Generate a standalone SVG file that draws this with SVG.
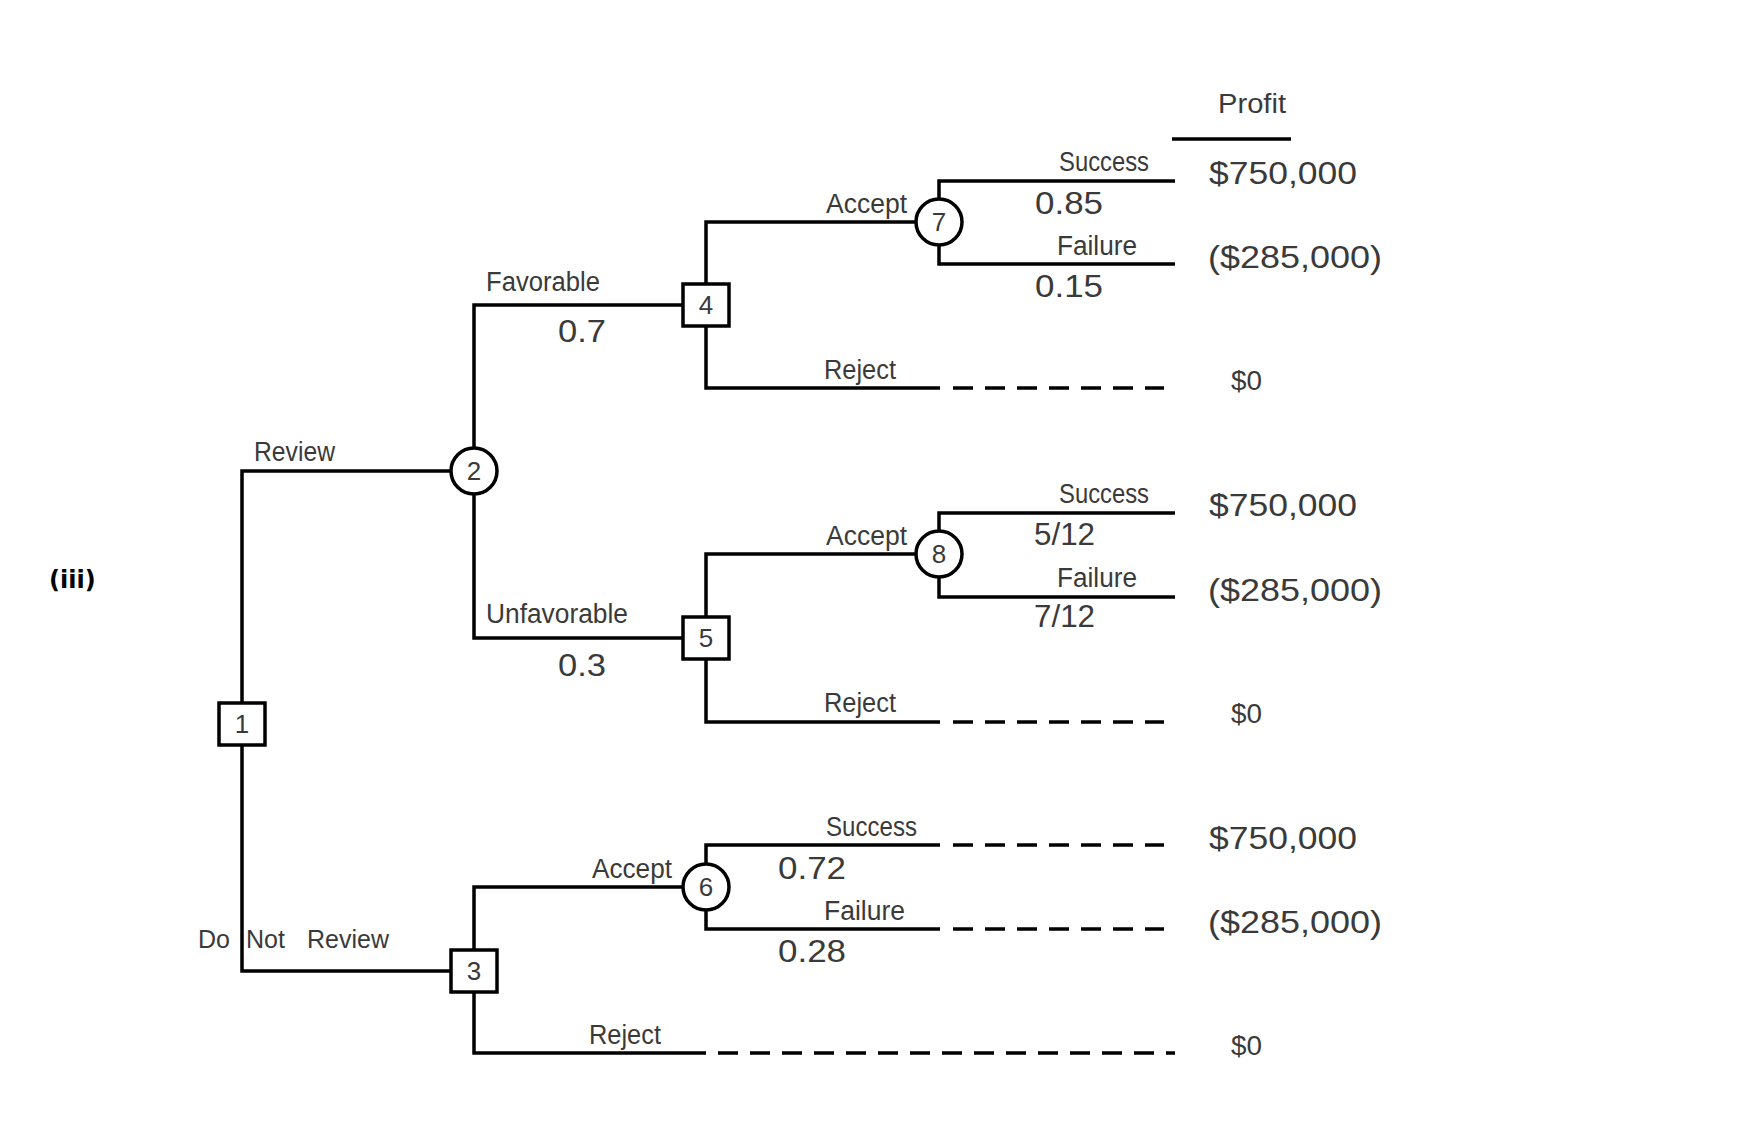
<svg xmlns="http://www.w3.org/2000/svg" width="1738" height="1126" viewBox="0 0 1738 1126">
<style>
.ln{fill:none;stroke:#000;stroke-width:3.5;stroke-linecap:butt;stroke-linejoin:miter}
.ds{fill:none;stroke:#000;stroke-width:3.5;stroke-dasharray:20 12}
.nd{fill:#fff;stroke:#000;stroke-width:3.5}
.lb{font-family:"Liberation Sans",Arial,sans-serif;font-size:27px;fill:#3a3a3a}
.nm{font-family:"Liberation Sans",Arial,sans-serif;font-size:31px;fill:#3a3a3a}
.id{font-family:"Liberation Sans",Arial,sans-serif;font-size:26px;fill:#3a3a3a;text-anchor:middle}
.tag{font-family:"DejaVu Sans",Verdana,sans-serif;font-size:24px;font-weight:bold;fill:#000}
</style>
<rect width="1738" height="1126" fill="#fff"/>
<text class="tag" x="49" y="588">(iii)</text>
<g id="connectors">
<path class="ln" d="M242,724 V471 H474"/>
<path class="ln" d="M242,724 V971 H474"/>
<path class="ln" d="M474,471 V305 H706"/>
<path class="ln" d="M474,471 V638 H706"/>
<path class="ln" d="M706,305 V222 H939"/>
<path class="ln" d="M706,305 V388 H940"/>
<path class="ds" d="M953,388 H1164"/>
<path class="ln" d="M939,222 V181 H1175"/>
<path class="ln" d="M939,222 V264 H1175"/>
<path class="ln" d="M706,638 V554 H939"/>
<path class="ln" d="M706,638 V722 H940"/>
<path class="ds" d="M953,722 H1164"/>
<path class="ln" d="M939,554 V513 H1175"/>
<path class="ln" d="M939,554 V597 H1175"/>
<path class="ln" d="M474,971 V887 H706"/>
<path class="ln" d="M474,971 V1053 H706"/>
<path class="ds" d="M718,1053 H1175"/>
<path class="ln" d="M706,887 V845 H940"/>
<path class="ds" d="M953,845 H1164"/>
<path class="ln" d="M706,887 V929 H940"/>
<path class="ds" d="M953,929 H1164"/>
<path class="ln" d="M1172,139 H1291"/>
</g>
<g id="node1"><rect class="nd" x="219" y="703" width="46" height="42"/><text class="id" x="242" y="733">1</text></g>
<g id="node2"><circle class="nd" cx="474" cy="471" r="23"/><text class="id" x="474" y="480">2</text></g>
<g id="node3"><rect class="nd" x="451" y="950" width="46" height="42"/><text class="id" x="474" y="980">3</text></g>
<g id="node4"><rect class="nd" x="683" y="284" width="46" height="42"/><text class="id" x="706" y="314">4</text></g>
<g id="node5"><rect class="nd" x="683" y="617" width="46" height="42"/><text class="id" x="706" y="647">5</text></g>
<g id="node6"><circle class="nd" cx="706" cy="887" r="23"/><text class="id" x="706" y="896">6</text></g>
<g id="node7"><circle class="nd" cx="939" cy="222" r="23"/><text class="id" x="939" y="231">7</text></g>
<g id="node8"><circle class="nd" cx="939" cy="554" r="23"/><text class="id" x="939" y="563">8</text></g>
<g id="labels">
<text class="lb" x="1218" y="113" textLength="68" lengthAdjust="spacingAndGlyphs">Profit</text>
<text class="lb" x="254" y="461" textLength="81" lengthAdjust="spacingAndGlyphs">Review</text>
<text class="lb" x="486" y="291" textLength="114" lengthAdjust="spacingAndGlyphs">Favorable</text>
<text class="nm" x="558" y="342" textLength="48" lengthAdjust="spacingAndGlyphs">0.7</text>
<text class="lb" x="486" y="623" textLength="142" lengthAdjust="spacingAndGlyphs">Unfavorable</text>
<text class="nm" x="558" y="676" textLength="48" lengthAdjust="spacingAndGlyphs">0.3</text>
<text class="lb" y="948" style="font-size:25px"><tspan x="198">Do</tspan><tspan x="246">Not</tspan><tspan x="307">Review</tspan></text>
<text class="lb" x="826" y="213" textLength="81" lengthAdjust="spacingAndGlyphs">Accept</text>
<text class="lb" x="1059" y="171" textLength="90" lengthAdjust="spacingAndGlyphs">Success</text>
<text class="nm" x="1035" y="214" textLength="68" lengthAdjust="spacingAndGlyphs">0.85</text>
<text class="lb" x="1057" y="255" textLength="80" lengthAdjust="spacingAndGlyphs">Failure</text>
<text class="nm" x="1035" y="297" textLength="68" lengthAdjust="spacingAndGlyphs">0.15</text>
<text class="nm" x="1209" y="184" textLength="148" lengthAdjust="spacingAndGlyphs">$750,000</text>
<text class="nm" x="1208" y="268" textLength="174" lengthAdjust="spacingAndGlyphs">($285,000)</text>
<text class="lb" x="824" y="379" textLength="72" lengthAdjust="spacingAndGlyphs">Reject</text>
<text class="lb" x="1231" y="390" textLength="31" lengthAdjust="spacingAndGlyphs">$0</text>
<text class="lb" x="826" y="545" textLength="81" lengthAdjust="spacingAndGlyphs">Accept</text>
<text class="lb" x="1059" y="503" textLength="90" lengthAdjust="spacingAndGlyphs">Success</text>
<text class="nm" x="1034" y="545" textLength="61" lengthAdjust="spacingAndGlyphs">5/12</text>
<text class="lb" x="1057" y="587" textLength="80" lengthAdjust="spacingAndGlyphs">Failure</text>
<text class="nm" x="1034" y="627" textLength="61" lengthAdjust="spacingAndGlyphs">7/12</text>
<text class="nm" x="1209" y="516" textLength="148" lengthAdjust="spacingAndGlyphs">$750,000</text>
<text class="nm" x="1208" y="601" textLength="174" lengthAdjust="spacingAndGlyphs">($285,000)</text>
<text class="lb" x="824" y="712" textLength="72" lengthAdjust="spacingAndGlyphs">Reject</text>
<text class="lb" x="1231" y="723" textLength="31" lengthAdjust="spacingAndGlyphs">$0</text>
<text class="lb" x="592" y="878" textLength="80" lengthAdjust="spacingAndGlyphs">Accept</text>
<text class="lb" x="826" y="836" textLength="91" lengthAdjust="spacingAndGlyphs">Success</text>
<text class="nm" x="778" y="879" textLength="68" lengthAdjust="spacingAndGlyphs">0.72</text>
<text class="lb" x="824" y="920" textLength="81" lengthAdjust="spacingAndGlyphs">Failure</text>
<text class="nm" x="778" y="962" textLength="68" lengthAdjust="spacingAndGlyphs">0.28</text>
<text class="nm" x="1209" y="849" textLength="148" lengthAdjust="spacingAndGlyphs">$750,000</text>
<text class="nm" x="1208" y="933" textLength="174" lengthAdjust="spacingAndGlyphs">($285,000)</text>
<text class="lb" x="589" y="1044" textLength="72" lengthAdjust="spacingAndGlyphs">Reject</text>
<text class="lb" x="1231" y="1055" textLength="31" lengthAdjust="spacingAndGlyphs">$0</text>
</g>
</svg>
